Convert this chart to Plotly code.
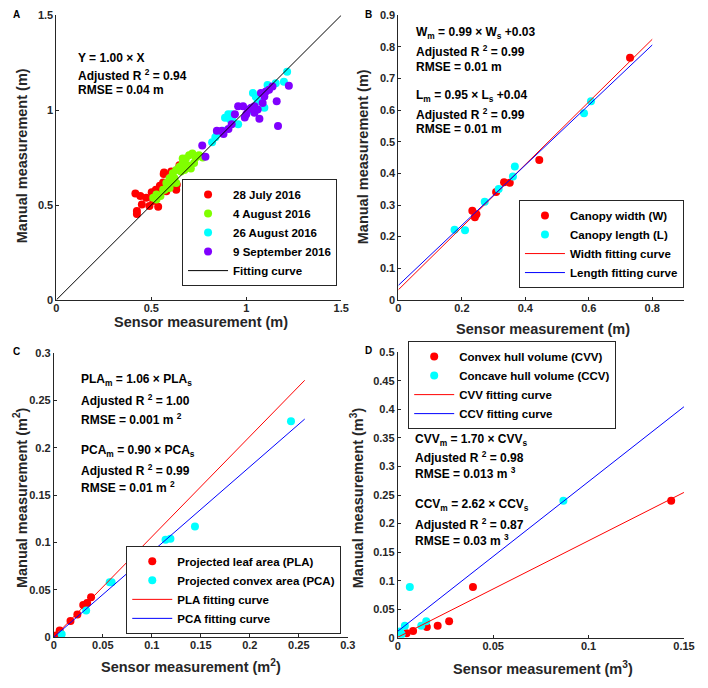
import plotly.graph_objects as go

# the page body keeps its 8px default margin, so the figure is drawn 8px in
W, H = 700, 680
OFF = 8
FONT = "Liberation Sans"
INK = "#262626"

# ---- panel A: plant height, sensor vs manual (m), one series per date
jul28_x = [0.416, 0.442, 0.473, 0.510, 0.424, 0.424, 0.450, 0.490, 0.536, 0.502, 0.524, 0.545, 0.562,
           0.565, 0.579, 0.593, 0.613, 0.634, 0.605, 0.648, 0.541, 0.579, 0.519, 0.553, 0.631, 0.567]
jul28_y = [0.560, 0.547, 0.538, 0.521, 0.469, 0.452, 0.503, 0.495, 0.491, 0.567, 0.581, 0.602, 0.619,
           0.664, 0.602, 0.616, 0.595, 0.607, 0.676, 0.710, 0.564, 0.572, 0.547, 0.581, 0.581, 0.671]
aug4_x = [0.510, 0.527, 0.548, 0.562, 0.579, 0.596, 0.613, 0.631, 0.648, 0.665, 0.682, 0.699, 0.716, 0.734,
          0.751, 0.771, 0.691, 0.708, 0.656, 0.622, 0.605, 0.588, 0.570, 0.674, 0.725, 0.631, 0.527, 0.596, 0.665]
aug4_y = [0.538, 0.555, 0.547, 0.581, 0.616, 0.641, 0.667, 0.684, 0.702, 0.722, 0.745, 0.762, 0.771, 0.750,
          0.762, 0.750, 0.710, 0.693, 0.676, 0.641, 0.616, 0.598, 0.581, 0.684, 0.722, 0.616, 0.529, 0.590, 0.745]
aug26_x = [1.215, 1.198, 1.112, 1.155, 1.035, 1.060, 1.095, 0.923, 0.914, 0.931, 0.880, 0.820, 0.837,
           0.957, 0.846, 0.888, 0.905, 0.930, 1.050, 1.020]
aug26_y = [1.202, 1.150, 1.133, 1.142, 1.090, 1.047, 1.012, 0.978, 0.952, 0.935, 0.891, 0.831, 0.857,
           0.926, 0.874, 0.960, 0.978, 0.970, 1.070, 1.000]
sep9_x = [1.224, 1.160, 1.167, 1.069, 1.095, 1.120, 1.077, 1.138, 1.086, 1.043, 1.026, 1.009, 1.000, 1.043,
          0.957, 0.983, 0.992, 0.940, 0.923, 0.906, 0.871, 0.845, 0.880, 0.768, 0.785, 1.060, 1.103]
sep9_y = [1.128, 1.047, 0.917, 0.955, 1.072, 1.107, 1.090, 1.124, 1.038, 1.021, 1.012, 1.004, 0.978, 0.986,
          1.021, 1.021, 0.961, 0.978, 0.926, 0.900, 0.891, 0.891, 0.874, 0.814, 0.754, 1.004, 1.098]
fitA_x = [0.0, 1.5]
fitA_slope, fitA_icpt = 1.00, 0.0

# ---- panel B: canopy width / length (m)
width_x = [0.730, 0.444, 0.333, 0.351, 0.308, 0.233, 0.241, 0.246]
width_y = [0.766, 0.442, 0.372, 0.370, 0.341, 0.282, 0.261, 0.271]
length_x = [0.607, 0.585, 0.367, 0.361, 0.316, 0.272, 0.177, 0.210]
length_y = [0.628, 0.590, 0.422, 0.390, 0.351, 0.310, 0.222, 0.220]
fitB_x = [0.0, 0.8]
fitW_slope, fitW_icpt = 0.99, 0.032
fitL_slope, fitL_icpt = 0.95, 0.046

# ---- panel C: projected areas (m^2)
pla_x = [0.078, 0.038, 0.034, 0.030, 0.024, 0.017, 0.006, 0.003]
pla_y = [0.085, 0.042, 0.036, 0.034, 0.024, 0.017, 0.007, 0.002]
pca_x = [0.242, 0.144, 0.119, 0.114, 0.059, 0.057, 0.033, 0.008]
pca_y = [0.228, 0.117, 0.104, 0.103, 0.058, 0.058, 0.028, 0.003]
fitC_x = [0.0, 0.256]
fitPLA_slope = 1.06
fitPCA_slope = 0.90

# ---- panel D: hull volumes (m^3)
cvv_x = [0.1433, 0.0394, 0.0269, 0.0209, 0.0152, 0.0080, 0.0046]
cvv_y = [0.240, 0.089, 0.029, 0.021, 0.019, 0.012, 0.008]
ccv_x = [0.0868, 0.0063, 0.0149, 0.0123, 0.0037, 0.0012, 0.0020]
ccv_y = [0.240, 0.089, 0.029, 0.021, 0.021, 0.011, 0.006]
fitD_x = [0.0, 0.15]
fitCVV_slope, fitCVV_icpt = 1.69, 0.001
fitCCV_slope, fitCCV_icpt = 2.62, 0.0115


def fit(xs, slope, icpt=0.0):
    return [slope * v + icpt for v in xs]


# window pixel -> paper fraction
def px(x):
    return (x - OFF) / W


def py(y):
    return 1 - (y - OFF) / H


fig = go.Figure()


def dots(x, y, color, name, ax, leg):
    fig.add_trace(go.Scatter(x=x, y=y, mode="markers", name=f"<b>{name}</b>",
                             marker=dict(color=color, size=8, line=dict(width=0)),
                             xaxis="x" + ax, yaxis="y" + ax, legend=leg))


def line(x, y, color, name, ax, leg, width=1):
    fig.add_trace(go.Scatter(x=x, y=y, mode="lines", name=f"<b>{name}</b>",
                             line=dict(color=color, width=width),
                             xaxis="x" + ax, yaxis="y" + ax, legend=leg))


dots(jul28_x, jul28_y, "#ff0000", "28 July 2016", "", "legend")
dots(aug4_x, aug4_y, "#80ff00", "4 August 2016", "", "legend")
dots(aug26_x, aug26_y, "#00ffff", "26 August 2016", "", "legend")
dots(sep9_x, sep9_y, "#8000ff", "9 September 2016", "", "legend")
line(fitA_x, fit(fitA_x, fitA_slope, fitA_icpt), "#000000", "Fitting curve", "", "legend")

dots(width_x, width_y, "#ff0000", "Canopy width (W)", "2", "legend2")
dots(length_x, length_y, "#00ffff", "Canopy length (L)", "2", "legend2")
line(fitB_x, fit(fitB_x, fitW_slope, fitW_icpt), "#ff0000", "Width fitting curve", "2", "legend2")
line(fitB_x, fit(fitB_x, fitL_slope, fitL_icpt), "#0000ff", "Length fitting curve", "2", "legend2")

dots(pla_x, pla_y, "#ff0000", "Projected leaf area (PLA)", "3", "legend3")
dots(pca_x, pca_y, "#00ffff", "Projected convex area (PCA)", "3", "legend3")
line(fitC_x, fit(fitC_x, fitPLA_slope), "#ff0000", "PLA fitting curve", "3", "legend3")
line(fitC_x, fit(fitC_x, fitPCA_slope), "#0000ff", "PCA fitting curve", "3", "legend3")

dots(cvv_x, cvv_y, "#ff0000", "Convex hull volume (CVV)", "4", "legend4")
dots(ccv_x, ccv_y, "#00ffff", "Concave hull volume (CCV)", "4", "legend4")
line(fitD_x, fit(fitD_x, fitCVV_slope, fitCVV_icpt), "#ff0000", "CVV fitting curve", "4", "legend4")
line(fitD_x, fit(fitD_x, fitCCV_slope, fitCCV_icpt), "#0000ff", "CCV fitting curve", "4", "legend4")

ax_style = dict(showline=True, linecolor=INK, linewidth=1, mirror=False, ticks="inside", ticklen=3,
                tickcolor=INK, showgrid=False, zeroline=False,
                tickfont=dict(family=FONT, size=11, color=INK, weight="bold"))
x_style = dict(ticklabelstandoff=-2, **ax_style)

leg_style = dict(bgcolor="white", bordercolor=INK, borderwidth=1, itemwidth=40,
                 font=dict(family=FONT, size=11.5, color="#000000"), tracegroupgap=0)

fig.update_layout(
    width=W, height=H, margin=dict(l=0, r=0, t=0, b=0),
    paper_bgcolor="white", plot_bgcolor="white",
    xaxis=dict(domain=[px(54.3), px(345)], range=[0, 1.5], dtick=0.5, anchor="y", **x_style),
    yaxis=dict(domain=[py(299), py(9.3)], range=[0, 1.5], dtick=0.5, anchor="x", **ax_style),
    xaxis2=dict(domain=[px(403.3), px(694.7)], range=[0, 0.9], dtick=0.2, anchor="y2", **x_style),
    yaxis2=dict(domain=[py(299), py(9.3)], range=[0, 0.9], dtick=0.1, anchor="x2", **ax_style),
    xaxis3=dict(domain=[px(51.7), px(351.7)], range=[0, 0.3], dtick=0.05, anchor="y3", **x_style),
    yaxis3=dict(domain=[py(642.3), py(353.3)], range=[0, 0.3], dtick=0.05, anchor="x3", **ax_style),
    xaxis4=dict(domain=[px(402.7), px(694.7)], range=[0, 0.15], dtick=0.05, anchor="y4", **x_style),
    yaxis4=dict(domain=[py(643), py(352.3)], range=[0, 0.5], dtick=0.05, anchor="x4", **ax_style),
    legend=dict(x=px(340.7), y=py(285), xanchor="right", yanchor="bottom", **leg_style),
    legend2=dict(x=px(694.7), y=py(287), xanchor="right", yanchor="bottom", **leg_style),
    legend3=dict(x=px(345), y=py(639), xanchor="right", yanchor="bottom", **leg_style),
    legend4=dict(x=px(413.3), y=py(341), xanchor="left", yanchor="top", **leg_style),
    showlegend=True,
)

ann = []


def text(x, y, s, size=12, angle=0, anchor="left", color="#000000"):
    ann.append(dict(x=px(x), y=py(y), xref="paper", yref="paper", text=s, showarrow=False,
                    xanchor=anchor, yanchor="middle", textangle=angle,
                    font=dict(family=FONT, size=size, color=color, weight="bold")))


# panel letters
text(8, 8, "A", size=10)
text(367, 8, "B", size=10)
text(8, 352, "C", size=10)
text(367, 351, "D", size=10)

# axis titles
text(201.7, 322, "Sensor measurement (m)", size=14.5, anchor="center", color=INK)
text(20, 152, "Manual measurement (m)", size=14.5, anchor="center", angle=-90, color=INK)
text(550.7, 329, "Sensor measurement (m)", size=14.5, anchor="center", color=INK)
text(368, 153, "Manual measurement (m)", size=14.5, anchor="center", angle=-90, color=INK)
text(192, 672, "Sensor measurement (m<sup>2</sup>)", size=14.5, anchor="center", color=INK)
text(18, 500, "Manual measurement (m<sup>2</sup>)", size=14.5, anchor="center", angle=-90, color=INK)
text(551, 674, "Sensor measurement (m<sup>3</sup>)", size=14.5, anchor="center", color=INK)
text(361, 500, "Manual measurement (m<sup>3</sup>)", size=14.5, anchor="center", angle=-90, color=INK)

# fit statistics
text(74, 53, "Y = 1.00 × X")
text(74, 70, "Adjusted R <sup>2</sup> = 0.94")
text(74, 85, "RMSE = 0.04 m")

text(419, 27, "W<sub>m</sub> = 0.99 × W<sub>s</sub> +0.03")
text(419, 46, "Adjusted R <sup>2</sup> = 0.99")
text(419, 62, "RMSE = 0.01 m")
text(419, 91, "L<sub>m</sub> = 0.95 × L<sub>s</sub> +0.04")
text(419, 110, "Adjusted R <sup>2</sup> = 0.99")
text(419, 125, "RMSE = 0.01 m")

text(77, 381, "PLA<sub>m</sub> = 1.06 × PLA<sub>s</sub>")
text(77, 401, "Adjusted R <sup>2</sup> = 1.00")
text(77, 420, "RMSE = 0.001 m <sup>2</sup>")
text(77, 453, "PCA<sub>m</sub> = 0.90 × PCA<sub>s</sub>")
text(77, 472, "Adjusted R <sup>2</sup> = 0.99")
text(77, 489, "RMSE = 0.01 m <sup>2</sup>")

text(418, 442, "CVV<sub>m</sub> = 1.70 × CVV<sub>s</sub>")
text(418, 459, "Adjusted R <sup>2</sup> = 0.98")
text(418, 475, "RMSE = 0.013 m <sup>3</sup>")
text(418, 508, "CCV<sub>m</sub> = 2.62 × CCV<sub>s</sub>")
text(418, 527, "Adjusted R <sup>2</sup> = 0.87")
text(418, 543, "RMSE = 0.03 m <sup>3</sup>")

fig.update_layout(annotations=ann)
fig.write_html("out.html")
